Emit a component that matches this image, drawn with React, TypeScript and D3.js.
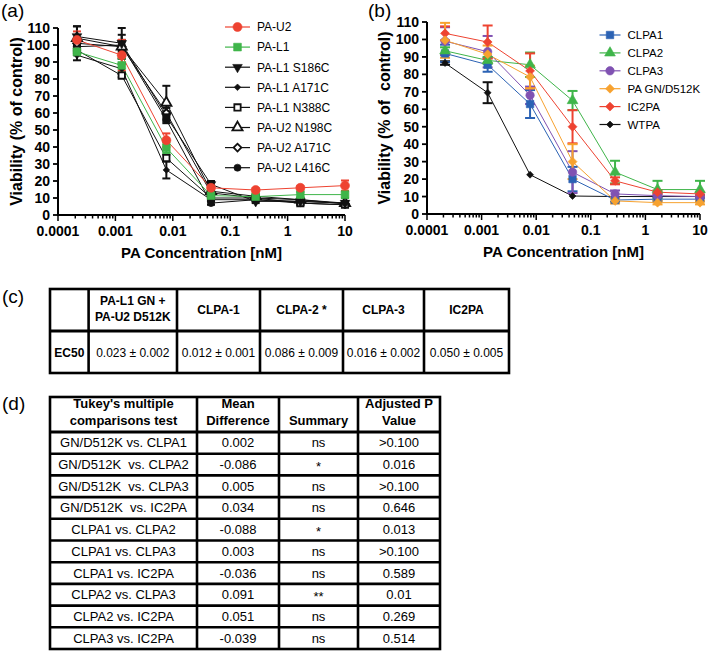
import React from 'react';
import * as d3 from 'd3';

const FONT = "'Liberation Sans', Arial, Helvetica, sans-serif";

// ---------- shared axis data ----------
const concentrations = [0.000214, 0.00129, 0.00772, 0.0463, 0.278, 1.667, 10];
const xTickValues = [0.0001, 0.001, 0.01, 0.1, 1, 10];
const xTickLabels = ['0.0001', '0.001', '0.01', '0.1', '1', '10'];
const yTickValues = [0, 10, 20, 30, 40, 50, 60, 70, 80, 90, 100, 110];

// ---------- panel (a) ----------
const aNames = ['PA-U2', 'PA-L1', 'PA-L1 S186C', 'PA-L1 A171C', 'PA-L1 N388C', 'PA-U2 N198C', 'PA-U2 A171C', 'PA-U2 L416C'];
const paU2 = [103, 94, 44, 16, 14.7, 16, 17.3];
const paU2Err = [5, 9, 4, 2, 1, 1, 3];
const paL1 = [96, 88, 39.5, 11.4, 10.8, 12, 12];
const paL1Err = [2, 4, 3, 2, 1.5, 1.5, 2];
const l1S186C = [105, 101, 58, 18, 8, 8, 7];
const l1S186CErr = [6, 9, 3, 2, 1, 1, 1];
const l1A171C = [94, 86, 26.5, 9, 9, 8, 7];
const l1A171CErr = [3, 3, 5, 1, 1, 1, 1];
const l1N388C = [97, 82, 33.5, 10, 10, 7, 6];
const l1N388CErr = [3, 1, 2, 1, 1, 1, 1];
const u2N198C = [104, 99, 66, 14, 11, 9, 7];
const u2N198CErr = [7, 7, 10, 2, 1, 1, 1];
const u2A171C = [101, 99, 60, 13, 10, 9, 6.5];
const u2A171CErr = [3, 3, 3, 2, 1, 1, 1];
const u2L416C = [99, 100, 56, 7, 9, 7, 6];
const u2L416CErr = [3, 3, 2, 1, 1, 1, 1];

// ---------- panel (b) ----------
const bNames = ['CLPA1', 'CLPA2', 'CLPA3', 'PA GN/D512K', 'IC2PA', 'WTPA'];
const clpa1 = [92, 85.5, 63, 20, 8, 8.5, 8.5];
const clpa1Err = [5, 4, 8, 7, 1, 1, 1];
const clpa2 = [93.5, 88, 85.5, 65, 24, 14, 14];
const clpa2Err = [2, 2, 7, 5.5, 6.5, 5, 5];
const clpa3 = [99, 93, 68, 24, 11.5, 10.5, 10];
const clpa3Err = [8, 9, 5, 12, 2, 1, 1];
const gnD512K = [99.5, 91.5, 78.5, 30, 7.5, 6.5, 6.5];
const gnD512KErr = [10, 5, 6.5, 10, 1.5, 1, 1];
const ic2pa = [103.5, 98.5, 82, 50, 19, 12.5, 11.5];
const ic2paErr = [4, 9.5, 10, 9.5, 2, 1, 1];
const wtpa = [86.5, 69.5, 22.5, 10.3, 10, 10, 10];
const wtpaErr = [1, 6, 0, 0, 0, 0, 0];

// ---------- table (c) ----------
const ec50Headers = [['PA-L1 GN +', 'PA-U2 D512K'], ['CLPA-1'], ['CLPA-2 *'], ['CLPA-3'], ['IC2PA']];
const ec50RowLabel = 'EC50';
const ec50Values = ['0.023 ± 0.002', '0.012 ± 0.001', '0.086 ± 0.009', '0.016 ± 0.002', '0.050 ± 0.005'];

// ---------- table (d) ----------
const tukeyHeaders = [['Tukey\'s multiple', 'comparisons test'], ['Mean', 'Difference'], ['', 'Summary'], ['Adjusted P', 'Value']];
const comparisons = [
  'GN/D512K vs. CLPA1', 'GN/D512K  vs. CLPA2', 'GN/D512K  vs. CLPA3', 'GN/D512K  vs. IC2PA',
  'CLPA1 vs. CLPA2', 'CLPA1 vs. CLPA3', 'CLPA1 vs. IC2PA', 'CLPA2 vs. CLPA3', 'CLPA2 vs. IC2PA', 'CLPA3 vs. IC2PA',
];
const meanDiffs = ['0.002', '-0.086', '0.005', '0.034', '-0.088', '0.003', '-0.036', '0.091', '0.051', '-0.039'];
const summaries = ['ns', '*', 'ns', 'ns', '*', 'ns', 'ns', '**', 'ns', 'ns'];
const pValues = ['>0.100', '0.016', '>0.100', '0.646', '0.013', '>0.100', '0.589', '0.01', '0.269', '0.514'];

const RED = '#EE4331';
const GREEN = '#3FB54A';
const BLUE = '#2B62B4';
const PURPLE = '#8052B2';
const ORANGE = '#F7A22F';
const BLACK = '#111';

type Series = { name: string; values: number[]; err: number[]; color: string; symbol: string; open?: boolean; size: number };

const seriesA: Series[] = [
  { name: aNames[7], values: u2L416C, err: u2L416CErr, color: BLACK, symbol: 'circle', size: 40 },
  { name: aNames[6], values: u2A171C, err: u2A171CErr, color: BLACK, symbol: 'diamond', open: true, size: 30 },
  { name: aNames[5], values: u2N198C, err: u2N198CErr, color: BLACK, symbol: 'triangle', open: true, size: 45 },
  { name: aNames[4], values: l1N388C, err: l1N388CErr, color: BLACK, symbol: 'square', open: true, size: 40 },
  { name: aNames[3], values: l1A171C, err: l1A171CErr, color: BLACK, symbol: 'diamond', size: 22 },
  { name: aNames[2], values: l1S186C, err: l1S186CErr, color: BLACK, symbol: 'triangleDown', size: 40 },
  { name: aNames[1], values: paL1, err: paL1Err, color: GREEN, symbol: 'square', size: 60 },
  { name: aNames[0], values: paU2, err: paU2Err, color: RED, symbol: 'circle', size: 64 },
];
const legendA = [7, 6, 5, 4, 3, 2, 1, 0].map((i) => seriesA[i]);

const seriesB: Series[] = [
  { name: bNames[5], values: wtpa, err: wtpaErr, color: BLACK, symbol: 'diamond', size: 24 },
  { name: bNames[0], values: clpa1, err: clpa1Err, color: BLUE, symbol: 'square', size: 56 },
  { name: bNames[1], values: clpa2, err: clpa2Err, color: GREEN, symbol: 'triangle', size: 50 },
  { name: bNames[2], values: clpa3, err: clpa3Err, color: PURPLE, symbol: 'circle', size: 56 },
  { name: bNames[4], values: ic2pa, err: ic2paErr, color: RED, symbol: 'diamond', size: 40 },
  { name: bNames[3], values: gnD512K, err: gnD512KErr, color: ORANGE, symbol: 'diamond', size: 40 },
];
const legendB = [1, 2, 3, 5, 4, 0].map((i) => seriesB[i]);

function symbolPath(type: string, size: number): string {
  const map: Record<string, d3.SymbolType> = {
    circle: d3.symbolCircle,
    square: d3.symbolSquare,
    triangle: d3.symbolTriangle,
    triangleDown: d3.symbolTriangle,
    diamond: d3.symbolSquare,
  };
  return d3.symbol().type(map[type]).size(size)() || '';
}

function Marker({ s, x, y }: { s: Series; x: number; y: number }) {
  const rot = s.symbol === 'triangleDown' ? 180 : s.symbol === 'diamond' ? 45 : 0;
  return (
    <path
      d={symbolPath(s.symbol, s.size)}
      transform={`translate(${x},${y}) rotate(${rot})`}
      fill={s.open ? '#fff' : s.color}
      stroke={s.color}
      strokeWidth={s.open ? 1.8 : 0.6}
    />
  );
}

type PanelProps = {
  series: Series[];
  legend: Series[];
  x0: number; x1: number; y0: number; y1: number;
  capW: number;
  legendX: number; legendY: number; legendDy: number; legendFont: number; legendLine: number;
  yTitle: string; yTitleX: number;
  label: string; labelX: number;
};

function Panel(p: PanelProps) {
  const x = d3.scaleLog().domain([0.0001, 10]).range([p.x0, p.x1]);
  const y = d3.scaleLinear().domain([0, 110]).range([p.y0, p.y1]);
  const line = d3.line<number>().x((_, i) => x(concentrations[i])).y((v) => y(v));
  const minor = x.ticks();
  return (
    <g fontFamily={FONT}>
      <text x={p.labelX} y={17} fontSize={19}>{p.label}</text>
      {/* series lines */}
      {p.series.map((s) => (
        <path key={s.name + 'l'} d={line(s.values) || ''} fill="none" stroke={s.color} strokeWidth={1} />
      ))}
      {/* error bars */}
      {p.series.map((s) => (
        <g key={s.name + 'e'} stroke={s.color} strokeWidth={2}>
          {s.values.map((v, i) => {
            if (!s.err[i]) return null;
            const cx = x(concentrations[i]);
            const top = y(v + s.err[i]);
            const bot = y(v - s.err[i]);
            return (
              <g key={i}>
                <line x1={cx} x2={cx} y1={top} y2={bot} />
                <line x1={cx - p.capW / 2} x2={cx + p.capW / 2} y1={top} y2={top} />
                <line x1={cx - p.capW / 2} x2={cx + p.capW / 2} y1={bot} y2={bot} />
              </g>
            );
          })}
        </g>
      ))}
      {/* markers */}
      {p.series.map((s) => (
        <g key={s.name + 'm'}>
          {s.values.map((v, i) => (
            <Marker key={i} s={s} x={x(concentrations[i])} y={y(v)} />
          ))}
        </g>
      ))}
      {/* y axis */}
      <line x1={p.x0} x2={p.x0} y1={p.y0 + 1} y2={p.y1} stroke="#000" strokeWidth={2} />
      {yTickValues.map((t) => (
        <g key={t}>
          <line x1={p.x0 - 5} x2={p.x0} y1={y(t)} y2={y(t)} stroke="#000" strokeWidth={1.8} />
          <text x={p.x0 - 8} y={y(t) + 5} fontSize={14} fontWeight="bold" textAnchor="end">{t}</text>
        </g>
      ))}
      {/* x axis */}
      <line x1={p.x0 - 1} x2={p.x1} y1={p.y0} y2={p.y0} stroke="#000" strokeWidth={2} />
      {minor.map((t, i) => {
        const major = Math.abs(Math.log10(t) - Math.round(Math.log10(t))) < 1e-6;
        return <line key={i} x1={x(t)} x2={x(t)} y1={p.y0} y2={p.y0 + (major ? 6 : 3.5)} stroke="#000" strokeWidth={1.5} />;
      })}
      {xTickValues.map((t, i) => (
        <text key={t} x={x(t)} y={p.y0 + 21} fontSize={14} fontWeight="bold" textAnchor="middle">{xTickLabels[i]}</text>
      ))}
      <text x={(p.x0 + p.x1) / 2} y={p.y0 + 43} fontSize={15} fontWeight="bold" textAnchor="middle">PA Concentration [nM]</text>
      <text
        transform={`translate(${p.yTitleX},${(p.y0 + p.y1) / 2}) rotate(-90)`}
        fontSize={16}
        fontWeight="bold"
        textAnchor="middle"
        style={{ whiteSpace: 'pre' }}
      >
        {p.yTitle}
      </text>
      {/* legend */}
      {p.legend.map((s, i) => {
        const ly = p.legendY + i * p.legendDy;
        return (
          <g key={s.name + 'lg'}>
            <line x1={p.legendX - p.legendLine / 2} x2={p.legendX + p.legendLine / 2} y1={ly} y2={ly} stroke={s.color} strokeWidth={1.2} />
            <Marker s={s} x={p.legendX} y={ly} />
            <text x={p.legendX + p.legendLine / 2 + 7} y={ly + p.legendFont * 0.36} fontSize={p.legendFont}>{s.name}</text>
          </g>
        );
      })}
    </g>
  );
}

function TableC() {
  const cols = [50, 88.6, 177, 260, 343, 424, 509];
  const top = 289, mid = 331, bottom = 373;
  return (
    <g fontFamily={FONT}>
      <text x={2} y={303} fontSize={19}>(c)</text>
      <rect x={cols[0]} y={top} width={cols[6] - cols[0]} height={bottom - top} fill="none" stroke="#000" strokeWidth={2.6} />
      <line x1={cols[0]} x2={cols[6]} y1={mid} y2={mid} stroke="#000" strokeWidth={3} />
      {cols.slice(1, 6).map((c) => (
        <line key={c} x1={c} x2={c} y1={top} y2={bottom} stroke="#000" strokeWidth={2.6} />
      ))}
      {ec50Headers.map((h, i) => {
        const cx = (cols[i + 1] + cols[i + 2]) / 2;
        if (h.length === 2) {
          return (
            <g key={i}>
              <text x={cx} y={305} fontSize={12} fontWeight="bold" textAnchor="middle">{h[0]}</text>
              <text x={cx} y={321} fontSize={12} fontWeight="bold" textAnchor="middle">{h[1]}</text>
            </g>
          );
        }
        return <text key={i} x={cx} y={314} fontSize={12} fontWeight="bold" textAnchor="middle">{h[0]}</text>;
      })}
      <text x={(cols[0] + cols[1]) / 2} y={357} fontSize={12} fontWeight="bold" textAnchor="middle">{ec50RowLabel}</text>
      {ec50Values.map((v, i) => (
        <text key={i} x={(cols[i + 1] + cols[i + 2]) / 2} y={357} fontSize={12} textAnchor="middle">{v}</text>
      ))}
    </g>
  );
}

function TableD() {
  const cols = [50, 197, 279, 358, 440];
  const top = 397, headBottom = 432, rowH = 21.7;
  const bottom = headBottom + rowH * comparisons.length;
  const columns = [comparisons, meanDiffs, summaries, pValues];
  return (
    <g fontFamily={FONT}>
      <text x={2} y={410} fontSize={19}>(d)</text>
      <rect x={cols[0]} y={top} width={cols[4] - cols[0]} height={bottom - top} fill="none" stroke="#000" strokeWidth={2.6} />
      {cols.slice(1, 4).map((c) => (
        <line key={c} x1={c} x2={c} y1={top} y2={bottom} stroke="#000" strokeWidth={2.6} />
      ))}
      {comparisons.map((_, i) => (
        <line key={i} x1={cols[0]} x2={cols[4]} y1={headBottom + rowH * i} y2={headBottom + rowH * i} stroke="#000" strokeWidth={i === 0 ? 3 : 2.6} />
      ))}
      {tukeyHeaders.map((h, i) => {
        const cx = (cols[i] + cols[i + 1]) / 2;
        return (
          <g key={i}>
            {h[0] && <text x={cx} y={408} fontSize={13} fontWeight="bold" textAnchor="middle">{h[0]}</text>}
            <text x={cx} y={425} fontSize={13} fontWeight="bold" textAnchor="middle">{h[1]}</text>
          </g>
        );
      })}
      {columns.map((col, j) =>
        col.map((v, i) => (
          <text
            key={j + '-' + i}
            x={(cols[j] + cols[j + 1]) / 2}
            y={headBottom + rowH * i + rowH / 2 + (v.startsWith('*') ? 6 : 4.5)}
            fontSize={13}
            textAnchor="middle"
            style={{ whiteSpace: 'pre' }}
          >
            {v}
          </text>
        ))
      )}
    </g>
  );
}

export default function App() {
  return (
    <svg width={709} height={652} style={{ position: 'absolute', left: 0, top: 0, background: '#fff' }}>
      <rect width={709} height={652} fill="#fff" />
      <Panel
        series={seriesA}
        legend={legendA}
        x0={58} x1={345} y0={215} y1={28}
        capW={8}
        legendX={237.5} legendY={27} legendDy={20.1} legendFont={12} legendLine={25}
        yTitle="Viability (% of control)" yTitleX={22}
        label="(a)" labelX={1}
      />
      <Panel
        series={seriesB}
        legend={legendB}
        x0={427} x1={700} y0={214} y1={22}
        capW={10}
        legendX={610} legendY={35} legendDy={17.9} legendFont={11.5} legendLine={21}
        yTitle="Viability (% of  control)" yTitleX={390}
        label="(b)" labelX={368}
      />
      <TableC />
      <TableD />
    </svg>
  );
}
